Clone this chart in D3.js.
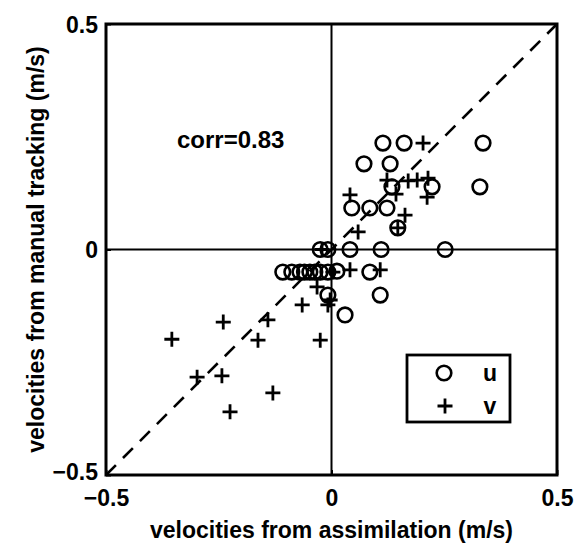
<!DOCTYPE html>
<html>
<head>
<meta charset="utf-8">
<script src="https://cdn.jsdelivr.net/npm/d3@7"></script>
<style>
  html, body { margin: 0; padding: 0; background: #fff; }
  svg { display: block; }
  text { font-family: "Liberation Sans", Arial, Helvetica, sans-serif; font-weight: bold; fill: #000; }
</style>
</head>
<body>
<script>
// ---- data ----
const uX = [0.114, 0.161, 0.336, 0.072, 0.130, 0.134, 0.223, 0.329,
            0.045, 0.085, 0.123, 0.147,
            -0.025, -0.008, 0.041, 0.110, 0.252,
            -0.108, -0.088, -0.070, -0.060, -0.048, -0.037, -0.025, -0.008, 0.012, 0.085,
            -0.008, 0.108, 0.030];
const uY = [0.236, 0.236, 0.236, 0.190, 0.190, 0.139, 0.139, 0.139,
            0.092, 0.092, 0.092, 0.048,
            0, 0, 0, 0, 0,
            -0.05, -0.05, -0.05, -0.05, -0.05, -0.05, -0.05, -0.05, -0.048, -0.05,
            -0.101, -0.101, -0.145];
const vX = [0.203, 0.123, 0.170, 0.190, 0.214, 0.212, 0.041, 0.143, 0.163, 0.147,
            0.059, 0.041, 0.108, -0.021, 0.003, -0.032, -0.065, -0.008, -0.003, -0.025,
            -0.240, -0.141, -0.354, -0.163, -0.298, -0.243, -0.130, -0.225];
const vY = [0.236, 0.154, 0.152, 0.154, 0.158, 0.116, 0.121, 0.123, 0.076, 0.048,
            0.039, -0.045, -0.045, 0, -0.05, -0.083, -0.123, -0.123, -0.112, -0.201,
            -0.161, -0.156, -0.199, -0.201, -0.283, -0.280, -0.318, -0.360];
const xTicks = [-0.5, 0, 0.5];
const yTicks = [-0.5, 0, 0.5];
const xTickLabels = ["\u22120.5", "0", "0.5"];
const yTickLabels = ["\u22120.5", "0", "0.5"];
const corrLabel = "corr=0.83";
const legendLabels = ["u", "v"];
const xTitle = "velocities from assimilation (m/s)";
const yTitle = "velocities from manual tracking (m/s)";

// ---- layout ----
const W = 585, H = 550;
const L = 106, R = 557, T = 24, B = 475;
const svg = d3.select("body").append("svg").attr("width", W).attr("height", H);
const x = d3.scaleLinear().domain([-0.5, 0.5]).range([L, R]);
const y = d3.scaleLinear().domain([-0.5, 0.5]).range([B, T]);

// zero lines
svg.append("line").attr("x1", x(0)).attr("x2", x(0)).attr("y1", T).attr("y2", B)
  .attr("stroke", "#000").attr("stroke-width", 2);
svg.append("line").attr("x1", L).attr("x2", R).attr("y1", y(0)).attr("y2", y(0))
  .attr("stroke", "#000").attr("stroke-width", 2);

// 1:1 dashed line
svg.append("line").attr("x1", x(-0.5)).attr("y1", y(-0.5)).attr("x2", x(0.5)).attr("y2", y(0.5))
  .attr("stroke", "#000").attr("stroke-width", 2.6).attr("stroke-dasharray", "14,10");

// axes
const xAxis = d3.axisBottom(x).tickValues(xTicks).tickSizeInner(-5).tickSizeOuter(0).tickPadding(15)
  .tickFormat((d, i) => xTickLabels[i]);
const gx = svg.append("g").attr("transform", `translate(0,${B})`).call(xAxis);
const yAxis = d3.axisLeft(y).tickValues(yTicks).tickSizeInner(-5).tickSizeOuter(0).tickPadding(8)
  .tickFormat((d, i) => yTickLabels[i]);
const gy = svg.append("g").attr("transform", `translate(${L},0)`).call(yAxis);
[gx, gy].forEach(g => {
  g.select(".domain").remove();
  g.selectAll("line").attr("stroke", "#000").attr("stroke-width", 2);
  g.selectAll("text").style("font-size", "23px").style("font-family", "'Liberation Sans', Arial, sans-serif")
    .style("font-weight", "bold").attr("fill", "#000");
});
gy.selectAll("text").attr("dy", "0.36em");
gy.selectAll(".tick").filter(d => d === -0.5).select("text").attr("dy", "0.2em");

// frame
svg.append("rect").attr("x", L).attr("y", T).attr("width", R - L).attr("height", B - T)
  .attr("fill", "none").attr("stroke", "#000").attr("stroke-width", 3);

// u circles
svg.append("g").selectAll("circle").data(uX).join("circle")
  .attr("cx", d => x(d)).attr("cy", (d, i) => y(uY[i])).attr("r", 7.3)
  .attr("fill", "none").attr("stroke", "#000").attr("stroke-width", 2.6);

// v pluses
const ps = 7.5;
svg.append("g").selectAll("path").data(vX).join("path")
  .attr("d", (d, i) => {
    const cx = x(d), cy = y(vY[i]);
    return `M${cx - ps},${cy}H${cx + ps}M${cx},${cy - ps}V${cy + ps}`;
  })
  .attr("stroke", "#000").attr("stroke-width", 2.8).attr("fill", "none");

// corr label
svg.append("text").attr("x", 177).attr("y", 148).style("font-size", "24px").text(corrLabel);

// legend
const lg = svg.append("g");
lg.append("rect").attr("x", 407).attr("y", 355).attr("width", 103).attr("height", 67)
  .attr("fill", "#fff").attr("stroke", "#000").attr("stroke-width", 2.8);
lg.append("circle").attr("cx", 444).attr("cy", 373).attr("r", 7.3)
  .attr("fill", "none").attr("stroke", "#000").attr("stroke-width", 2.6);
lg.append("path").attr("d", `M${445 - ps},406H${445 + ps}M445,${406 - ps}V${406 + ps}`)
  .attr("stroke", "#000").attr("stroke-width", 2.8);
lg.append("text").attr("x", 490).attr("y", 373).attr("dy", "0.35em").attr("text-anchor", "middle")
  .style("font-size", "23px").text(legendLabels[0]);
lg.append("text").attr("x", 490).attr("y", 406).attr("dy", "0.35em").attr("text-anchor", "middle")
  .style("font-size", "23px").text(legendLabels[1]);

// titles
svg.append("text").attr("x", (L + R) / 2).attr("y", 538).attr("text-anchor", "middle")
  .style("font-size", "23px").text(xTitle);
svg.append("text").attr("transform", `translate(44,${(T + B) / 2}) rotate(-90)`)
  .attr("text-anchor", "middle").style("font-size", "23px").text(yTitle);
</script>
</body>
</html>
